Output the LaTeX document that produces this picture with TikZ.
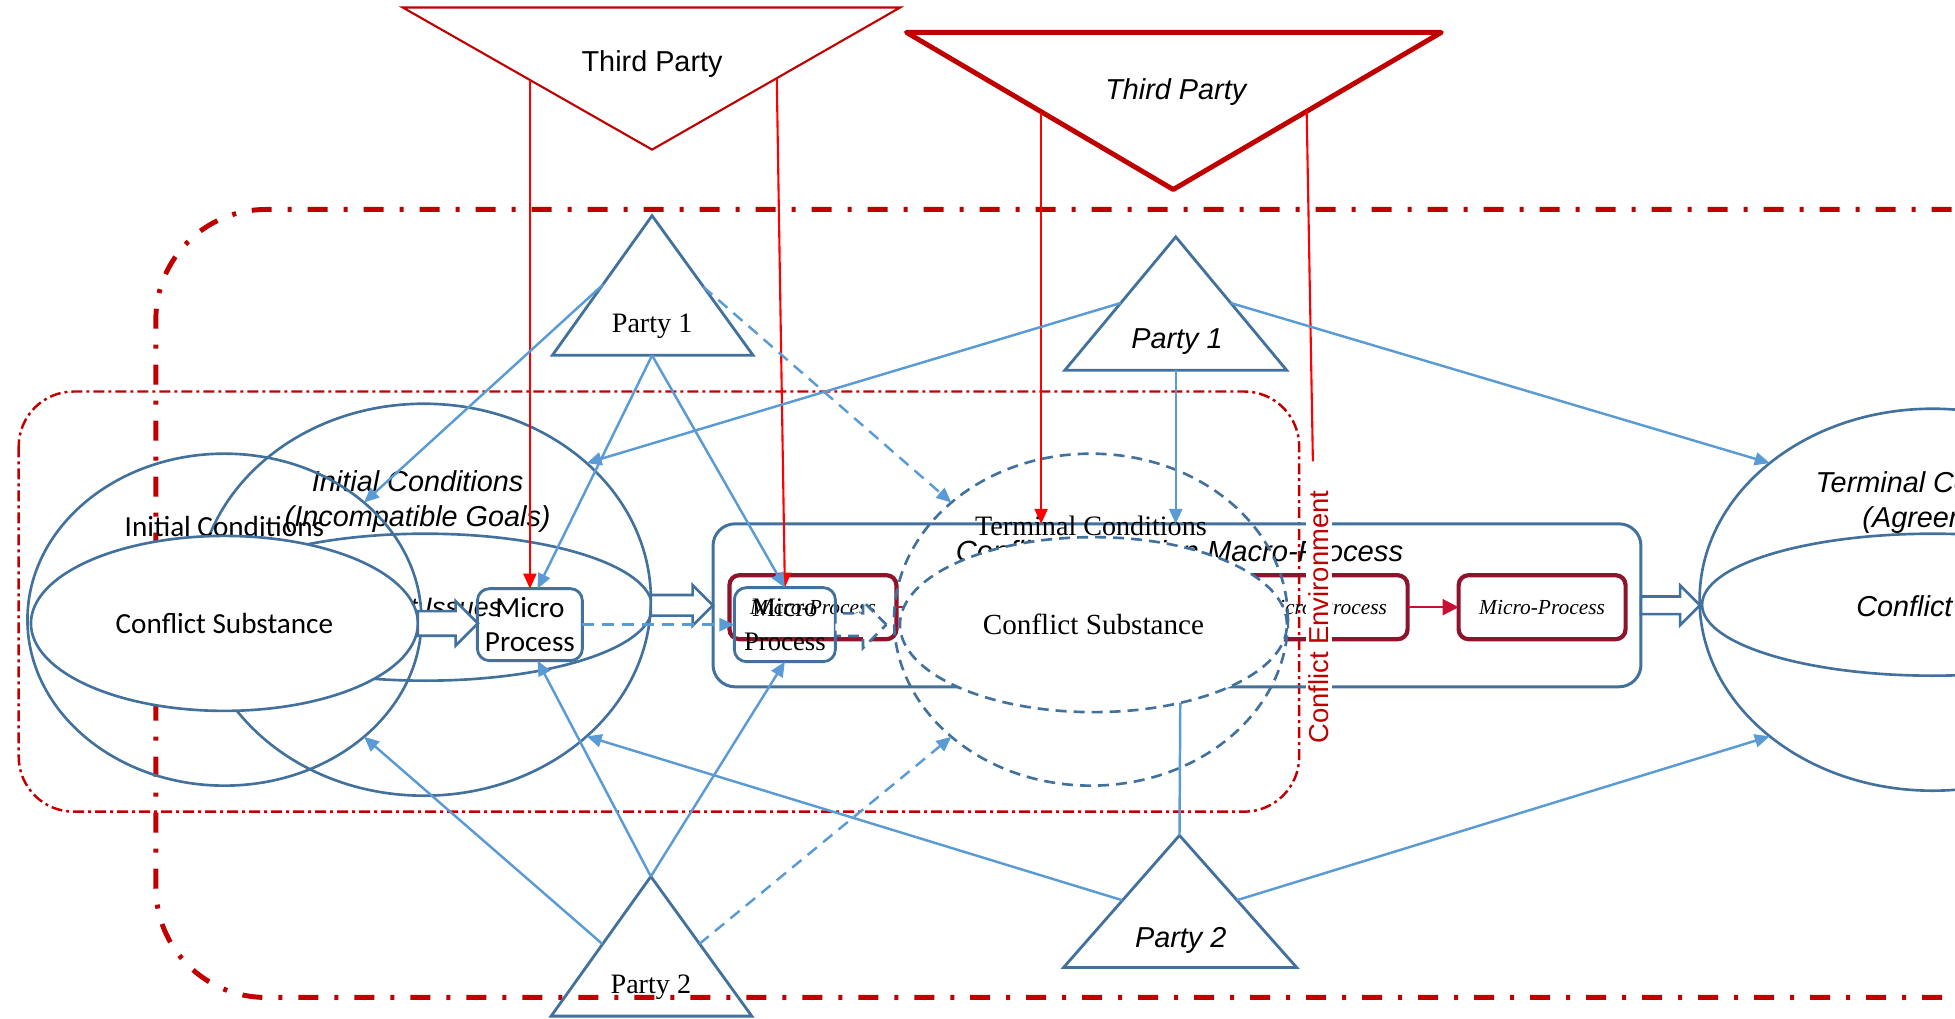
\documentclass[tikz,border=0pt]{standalone}
\usepackage{fontspec}
\newfontfamily\calibrifont{Carlito}
\newfontfamily\arialfont{Liberation Sans}
\newfontfamily\timesfont{Liberation Serif}
\usepackage{tikz}
\usetikzlibrary{positioning}
\usetikzlibrary{shapes.geometric,shapes.arrows,arrows.meta}
\usepackage{xcolor}
\definecolor{cblue}{HTML}{41719C}
\definecolor{lblue}{HTML}{5B9BD5}
\definecolor{dred}{HTML}{C00000}
\definecolor{bred}{HTML}{FF0000}
\definecolor{mred}{RGB}{142,20,44}
\definecolor{crim}{RGB}{200,16,52}

\begin{document}
\begin{tikzpicture}[x=0.1247mm, y=-0.1247mm, every node/.style={inner sep=0,outer sep=0}, align=center, node distance=5.1mm,
		>={Triangle[length=1.5mm,width=1.3mm]},
		calib/.style={font=\fontsize{8.3}{9.6}\selectfont\calibrifont},
		arial/.style={font=\fontsize{8.2}{9.9}\selectfont\arialfont},
		ariali/.style={font=\fontsize{8.2}{9.9}\selectfont\arialfont\itshape},
		times/.style={font=\fontsize{8}{9.6}\selectfont\timesfont},
		ell/.style={ellipse, draw=cblue, line width=.75pt},
		dell/.style={ell, dash pattern=on 1.1mm off .7mm},
		mbox/.style={rectangle, draw=cblue, line width=.8pt, rounded corners=1.2mm},
		rbox/.style={rectangle, draw=mred, line width=1.2pt, rounded corners=1mm, minimum width=16.7mm, minimum height=6.4mm, font=\fontsize{6.1}{7}\selectfont\timesfont\itshape},
		hollow/.style={single arrow, draw=cblue, fill=white, line width=.75pt, minimum width=0pt, inner xsep=0pt, anchor=tail},
		party/.style={draw=cblue, line width=.8pt},
		conn/.style={draw=lblue, line width=.7pt, ->},
		dconn/.style={conn, dash pattern=on 1.2mm off .8mm},
		redl/.style={draw=bred, line width=.6pt, ->}]
		\useasboundingbox (0,0) rectangle (1568,817);
		
		%Frames
		\draw[dred, line width=1.4pt, dash pattern=on 2mm off 1.6mm on .4mm off 1.6mm, rounded corners=11mm] (1700,168) -- (125,168) -- (125,800) -- (1700,800);
		\draw[dred, line width=.7pt, dash pattern=on 1.1mm off .4mm on .3mm off .4mm, rounded corners=5.5mm] (15,314) rectangle (1042,651);
		
		%Nodes
		\node[ell, minimum width=45.4mm, minimum height=39.2mm] (21) at (340,481) {};
		\node[ell, minimum width=45.4mm, minimum height=14.7mm] (22) at (341,487) {};
		\node[ariali, font=\fontsize{7.6}{9}\selectfont\arialfont\itshape] (25) at (333,487) {Conflict Issues};
		\node[ariali] (23) at (335,402) {Initial Conditions\\(Incompatible Goals)};
		\node[ell, minimum width=39.4mm, minimum height=33.2mm] (11) at (180,497) {};
		\node[calib] (13) at (180,422) {Initial Conditions};
		\node[ell, calib, fill=white, minimum width=38.7mm, minimum height=17.5mm] (12) at (180,500) {Conflict Substance};
		\node[mbox, calib, minimum width=10.5mm, minimum height=7.2mm] (24) at (425,501) {Micro\\Process};
		
		\node[mbox, rounded corners=2.2mm, line width=.85pt, minimum width=92.8mm, minimum height=16.3mm] (31) at (944,485.5) {};
		\node[ariali, font=\fontsize{8.3}{9.9}\selectfont\arialfont\itshape] (35) at (946,442) {Conflict Resolution Macro-Process};
		\node[rbox] (32) at (652,487) {Micro-Process};
		\node[rbox] (33) at (1062,487) {Micro-Process};
		\node[rbox] (34) [right=of 33] {Micro-Process};
		\node[mbox, times, font=\fontsize{7.6}{9.6}\selectfont\timesfont, minimum width=10.1mm, minimum height=7.4mm] (36) at (629.5,501) {Micro\\Process};
		\draw[crim, line width=.6pt, -{Triangle[length=1.6mm,width=1.6mm]}] (32) -- (33);
		\draw[crim, line width=.6pt, -{Triangle[length=1.6mm,width=1.6mm]}] (33) -- (34);
		
		\node[hollow, inner ysep=1.1mm, single arrow head extend=1mm, minimum height=6mm] (81) at (12.east) {};
		\node[hollow, inner ysep=.9mm, single arrow head extend=1mm, minimum height=6.2mm] (82) at (21.east |- 31.west) {};
		\node[hollow, inner ysep=.75mm, single arrow head extend=1.1mm, minimum height=5.9mm] (83) at (31.east) {};
		\node[hollow, dash pattern=on 1.1mm off .7mm, inner ysep=1mm, single arrow head extend=1.2mm, minimum height=5.1mm] (84) at (36.east) {};
		\draw[dconn] (24) -- (36);
		
		\node[dell, minimum width=39.4mm, minimum height=33.2mm] (41) at (875,497) {};
		\node[dell, times, font=\fontsize{8.3}{9.6}\selectfont\timesfont, fill=white, minimum width=38.7mm, minimum height=17.5mm] (42) at (877,501) {Conflict Substance};
		\node[times] (43) at (875,422) {Terminal Conditions};
		
		\node[ell, minimum width=46.6mm, minimum height=38.2mm] (51) at (1550,481) {};
		\node[ell, minimum width=46.1mm, minimum height=14.2mm] (52) at (1550,485) {};
		\node[ariali] (53) at (1558,403) {Terminal Conditions\\(Agreement)};
		\node[ariali] (54) at (1564,486) {Conflict Issues};
		
		\draw[dred, line width=.6pt] (323,6) -- (722,6) -- (523,120) -- cycle;
		\draw[dred, line width=1.4pt, line join=round] (727,26) -- (1156,26) -- (941,152) -- cycle;
		\node[arial] (61) at (523,51) {Third Party};
		\node[ariali] (62) at (943,74) {Third Party};
		
		\draw[party] (523,173) -- (604,285) -- (443,285) -- cycle;
		\draw[party] (522,703) -- (603,815) -- (442,815) -- cycle;
		\draw[party] (943,190) -- (1032,297) -- (854,297) -- cycle;
		\draw[party] (946,670) -- (1040,776) -- (853,776) -- cycle;
		\node[times] (63) at (523,262) {Party 1};
		\node[times] (64) at (522,792) {Party 2};
		\node[ariali] (65) at (944,274) {Party 1};
		\node[ariali] (66) at (947,754) {Party 2};
		
		\coordinate (t1l) at (425,64);
		\coordinate (t1r) at (623,63);
		\coordinate (t2l) at (835,90);
		\coordinate (t2r) at (1048,89);
		\coordinate (t2e) at (1053,370);
		\coordinate (p1lw) at (484,228);
		\coordinate (p1lb) at (523,285);
		\coordinate (p1le) at (564,230);
		\coordinate (p2lw) at (483,757);
		\coordinate (p2lt) at (522,703);
		\coordinate (p2le) at (561,757);
		\coordinate (p1rw) at (899,243);
		\coordinate (p1re) at (987,243);
		\coordinate (p1rb) at (943,297);
		\coordinate (p2rw) at (900,722);
		\coordinate (p2re) at (992,722);
		\coordinate (p2rt) at (946,670);
		
		%Lines
		\draw[redl] (t1l) -- (24.north);
		\draw[redl] (t1r) -- (36.north);
		\draw[redl] (t2l) -- (t2l |- 31.north);
		\draw[redl, -] (t2r) -- (t2e);
		\draw[conn] (p1lw) -- (11.40);
		\draw[conn] (p1lb) -- (24.78);
		\draw[conn] (p1lb) -- (36.north);
		\draw[dconn] (p1le) -- (41.140);
		\draw[conn] (p2lw) -- (11.-40);
		\draw[conn] (p2lt) -- (24.-78);
		\draw[conn] (p2lt) -- (36.south);
		\draw[dconn] (p2le) -- (41.-140);
		\draw[conn] (p1rw) -- (21.40);
		\draw[conn] (p1re) -- (51.140);
		\draw[conn] (p1rb) -- (p1rb |- 31.north);
		\draw[conn] (p2rw) -- (21.-40);
		\draw[conn] (p2re) -- (51.-140);
		\draw[conn, -] (p2rt) -- (42.-42);
		
		\node[arial, font=\fontsize{7.8}{9}\selectfont\arialfont, text=dred, fill=white, inner sep=.3mm, rotate=90] (7) at (1058,495) {Conflict Environment};
	\end{tikzpicture}
\end{document}
